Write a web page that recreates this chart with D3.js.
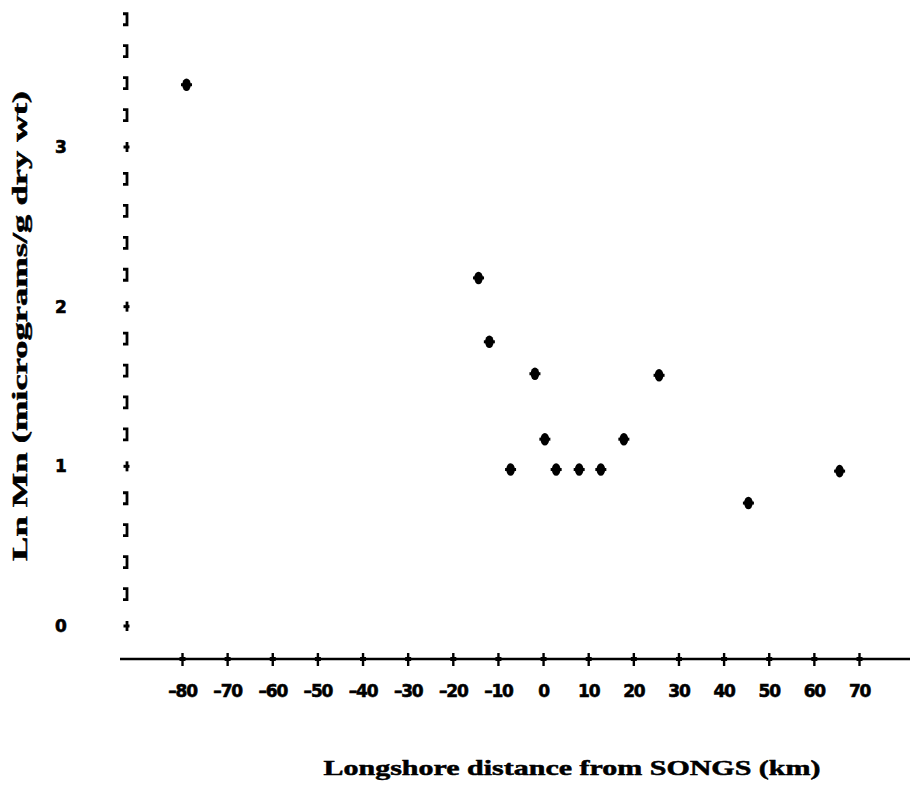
<!DOCTYPE html>
<html>
<head>
<meta charset="utf-8">
<script src="https://cdn.jsdelivr.net/npm/d3@7"></script>
<style>
  html, body { margin: 0; padding: 0; background: #fff; }
  svg { display: block; }
</style>
</head>
<body>
<svg id="chart" width="910" height="796"></svg>
<script>
// ---- data ----
const distanceKm = [-79, -14.3, -11.9, -7.2, -1.8, 0.4, 2.9, 8.0, 12.8, 17.9, 25.7, 45.5, 65.7];
const lnMn       = [3.39, 2.18, 1.78, 0.98, 1.58, 1.17, 0.98, 0.98, 0.98, 1.17, 1.57, 0.77, 0.97];
const xTickValues = [-80, -70, -60, -50, -40, -30, -20, -10, 0, 10, 20, 30, 40, 50, 60, 70];
const yMajorTicks = [0, 1, 2, 3];
const yMinorTicks = [0.2, 0.4, 0.6, 0.8, 1.2, 1.4, 1.6, 1.8, 2.2, 2.4, 2.6, 2.8, 3.2, 3.4, 3.6, 3.8];
const xTitle = "Longshore distance from SONGS (km)";
const yTitle = "Ln Mn (micrograms/g dry wt)";

// ---- layout ----
const svg = d3.select("#chart");
const x = d3.scaleLinear().domain([-80, 70]).range([182, 859]);
const y = d3.scaleLinear().domain([0, 3]).range([626, 147]);
const axisY = 659;
const yTickX = 127;
const ink = "#000";

// x axis line
svg.append("line")
  .attr("x1", 120).attr("x2", 910)
  .attr("y1", axisY).attr("y2", axisY)
  .attr("stroke", ink).attr("stroke-width", 2.6);

// x axis ticks & labels via d3 axis
const xAxis = d3.axisBottom(x)
  .tickValues(xTickValues)
  .tickSize(0)
  .tickPadding(0)
  .tickFormat(d => d < 0 ? "\u2013" + Math.abs(d) : String(d));
const gx = svg.append("g").attr("transform", `translate(0,${axisY})`).call(xAxis);
gx.select(".domain").remove();
gx.selectAll(".tick text")
  .attr("y", 38)
  .attr("dy", 0)
  .attr("fill", ink)
  .attr("stroke", ink)
  .attr("stroke-width", 0.6)
  .style("font-family", "'DejaVu Sans', sans-serif")
  .style("font-weight", "bold")
  .style("font-size", "17px")
  .style("letter-spacing", "-1.2px");
gx.selectAll(".tick").each(function() {
  const g = d3.select(this);
  g.append("line").attr("x1", 0).attr("x2", 0).attr("y1", -6).attr("y2", 7)
    .attr("stroke", ink).attr("stroke-width", 2.4);
  g.append("line").attr("x1", -3).attr("x2", 3).attr("y1", 0).attr("y2", 0)
    .attr("stroke", ink).attr("stroke-width", 4);
});

// y axis: no line, glyph-like tick marks
const gy = svg.append("g");
gy.selectAll("path.minor")
  .data(yMinorTicks)
  .join("path")
  .attr("class", "minor")
  .attr("d", d => {
    const cy = y(d);
    return `M${yTickX - 4},${cy - 5.5} L${yTickX},${cy - 5.5} L${yTickX},${cy + 5.5} L${yTickX - 4},${cy + 5.5}`;
  })
  .attr("fill", "none").attr("stroke", ink).attr("stroke-width", 2.8);

gy.selectAll("g.major")
  .data(yMajorTicks)
  .join("g")
  .attr("class", "major")
  .attr("transform", d => `translate(${yTickX},${y(d)})`)
  .each(function() {
    const g = d3.select(this);
    g.append("line").attr("x1", 0).attr("x2", 0).attr("y1", -5).attr("y2", 5)
      .attr("stroke", ink).attr("stroke-width", 2.8);
    g.append("line").attr("x1", -3.5).attr("x2", 2.5).attr("y1", 0).attr("y2", 0)
      .attr("stroke", ink).attr("stroke-width", 3);
  });

gy.selectAll("text.ylab")
  .data(yMajorTicks)
  .join("text")
  .attr("class", "ylab")
  .attr("x", 61)
  .attr("y", d => y(d))
  .attr("dy", "0.36em")
  .attr("text-anchor", "middle")
  .attr("fill", ink)
  .attr("stroke", ink)
  .attr("stroke-width", 0.6)
  .style("font-family", "'DejaVu Sans', sans-serif")
  .style("font-weight", "bold")
  .style("font-size", "17px")
  .text(d => d);

// points
const pts = svg.append("g")
  .selectAll("g.pt")
  .data(distanceKm.map((d, i) => ({ d, v: lnMn[i] })))
  .join("g")
  .attr("class", "pt")
  .attr("transform", p => `translate(${x(p.d)},${y(p.v)})`);
pts.append("ellipse").attr("rx", 4.3).attr("ry", 6.3).attr("fill", ink);
pts.append("rect").attr("x", -5.5).attr("y", -1.5).attr("width", 11).attr("height", 3).attr("fill", ink);

// axis titles
svg.append("text")
  .attr("x", 572).attr("y", 775)
  .attr("text-anchor", "middle")
  .attr("textLength", 497)
  .attr("lengthAdjust", "spacingAndGlyphs")
  .attr("fill", ink)
  .attr("stroke", ink)
  .attr("stroke-width", 0.5)
  .style("font-family", "'Liberation Serif', 'Times New Roman', serif")
  .style("font-weight", "bold")
  .style("font-size", "21px")
  .text(xTitle);

svg.append("text")
  .attr("transform", "translate(27,326) rotate(-90)")
  .attr("text-anchor", "middle")
  .attr("textLength", 470)
  .attr("lengthAdjust", "spacingAndGlyphs")
  .attr("fill", ink)
  .attr("stroke", ink)
  .attr("stroke-width", 0.5)
  .style("font-family", "'Liberation Serif', 'Times New Roman', serif")
  .style("font-weight", "bold")
  .style("font-size", "21px")
  .text(yTitle);
</script>
</body>
</html>
